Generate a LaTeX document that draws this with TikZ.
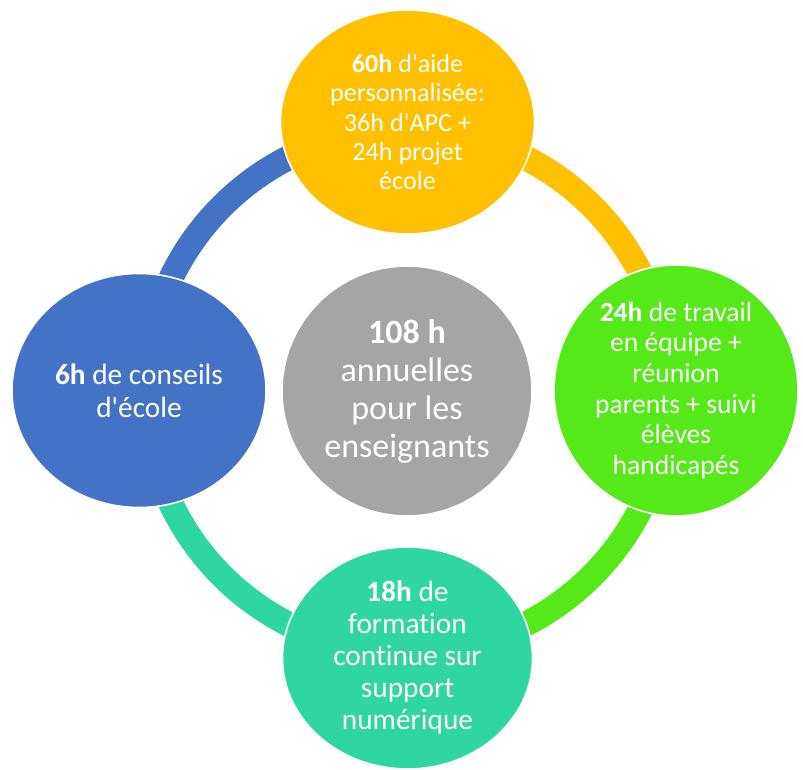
\documentclass[tikz,border=0pt]{standalone}
\usepackage{fontspec}
\setmainfont{Carlito}[Ligatures={TeX,NoCommon}]
\usetikzlibrary{shapes.geometric}

\definecolor{aideyellow}{HTML}{FFC000}
\definecolor{teamgreen}{HTML}{55E91A}
\definecolor{trainteal}{HTML}{30D6A2}
\definecolor{councilblue}{HTML}{4472C4}
\definecolor{hubgray}{HTML}{A5A5A5}
\newcommand{\apos}{\textquotesingle}

\begin{document}
\begin{tikzpicture}[x=0.75pt,y=0.75pt,
		bubble/.style={ellipse, draw=white, line width=1.2pt, inner sep=0pt, text=white, align=center},
		ringarc/.style={line width=18.75pt}]
		\useasboundingbox (0,0) rectangle (803,769);
		
		% ring round the hub
		\coordinate (hub) at (407,378);
		\def\ringr{261.5}
		\foreach \dir/\ang in {n/90, e/0, s/-90, w/180}
			\path (hub) ++(\ang:\ringr) coordinate (ring-\dir);
		\foreach \dir/\ang/\col in {n/90/aideyellow, e/0/teamgreen, s/-90/trainteal, w/180/councilblue}
			\draw[ringarc, \col] (ring-\dir) arc[start angle=\ang, end angle=\ang-90, radius=\ringr];
		
		% bubbles (sizes in pt, 1px = 0.75pt)
		\node[bubble, fill=hubgray, minimum width=187.5pt, minimum height=187.5pt, font=\fontsize{25.5}{28.5}\selectfont] (total) at (hub)
			{\textbf{108 h}\\annuelles\\pour les\\enseignants};
		\node[bubble, fill=aideyellow, minimum width=190.5pt, minimum height=168pt, font=\fontsize{19.6}{22}\selectfont] (aide) at (407.5,647)
			{\textbf{60h} d\apos aide\\personnalisée:\\36h d\apos APC +\\24h projet\\école};
		\node[bubble, fill=teamgreen, minimum width=183pt, minimum height=188.25pt, font=\fontsize{20.7}{23}\selectfont] (team) at (676,378.5)
			{\textbf{24h} de travail\\en équipe +\\réunion\\parents + suivi\\élèves\\handicapés};
		\node[bubble, fill=trainteal, minimum width=187.5pt, minimum height=166.5pt, font=\fontsize{22}{24}\selectfont] (train) at (407.5,111)
			{\textbf{18h} de\\formation\\continue sur\\support\\numérique};
		\node[bubble, fill=councilblue, minimum width=190.5pt, minimum height=175.5pt, font=\fontsize{22}{24.75}\selectfont] (council) at (139,378.5)
			{\textbf{6h} de conseils\\d\apos école};
	\end{tikzpicture}
\end{document}
